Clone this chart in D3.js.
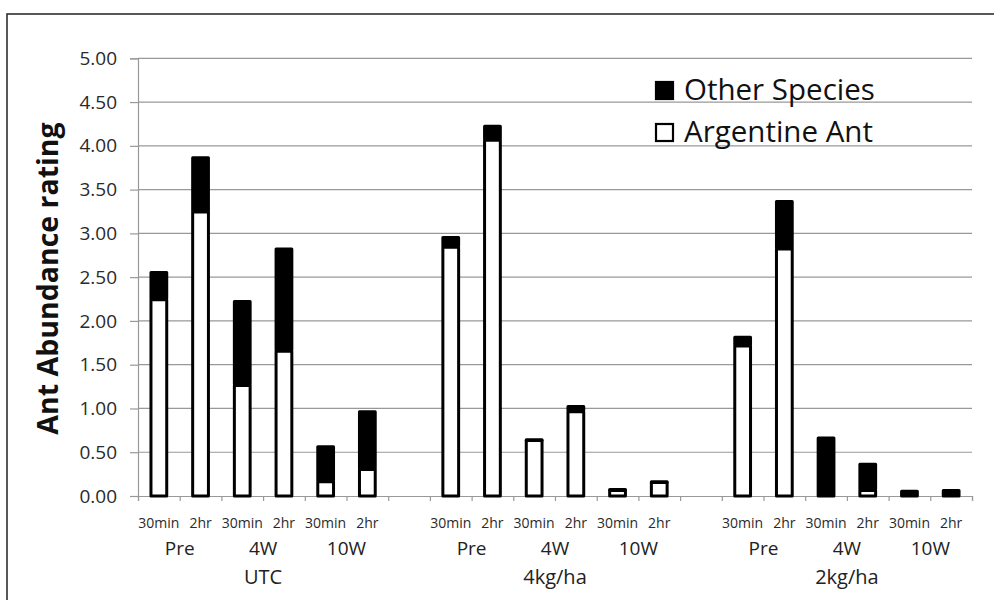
<!DOCTYPE html>
<html>
<head>
<meta charset="utf-8">
<script src="https://cdn.jsdelivr.net/npm/d3@7"></script>
<style>
  html, body { margin: 0; padding: 0; background: #fff; }
  svg { display: block; font-family: "Open Sans", "Noto Sans", sans-serif; }
</style>
</head>
<body>
<svg id="chart" width="994" height="600"></svg>
<script>
// ---- data ----
const groups = ["UTC", "4kg/ha", "2kg/ha"];
const periods = ["Pre", "4W", "10W"];
const times = ["30min", "2hr"];
const yTicks = [0, 0.5, 1, 1.5, 2, 2.5, 3, 3.5, 4, 4.5, 5];
const seriesNames = ["Other Species", "Argentine Ant"];
// order: group > period > time
const argentine = [2.26, 3.26, 1.28, 1.67, 0.18, 0.32,
                   2.86, 4.08, 0.65, 0.98, 0.08, 0.17,
                   1.73, 2.84, 0.00, 0.08, 0.00, 0.00];
const other     = [0.31, 0.62, 0.96, 1.17, 0.40, 0.66,
                   0.11, 0.16, 0.01, 0.06, 0.01, 0.01,
                   0.10, 0.54, 0.68, 0.30, 0.07, 0.08];

(function () {
// ---- build slots (with an empty slot between groups) ----
const slots = [];
const rows = [];
let k = 0;
groups.forEach((g, gi) => {
  periods.forEach(p => {
    times.forEach(t => {
      const id = g + "|" + p + "|" + t;
      slots.push(id);
      rows.push({id, group: g, period: p, time: t, argentine: argentine[k], other: other[k]});
      k++;
    });
  });
  if (gi < groups.length - 1) slots.push("gap" + gi);
});

const svg = d3.select("#chart");
const pLeft = 138, pRight = 972, pTop = 58.3, pBottom = 496;

const x = d3.scaleBand().domain(slots).range([pLeft, pRight]).paddingInner(0.55).paddingOuter(0.275);
const xb = d3.scaleLinear().domain([0, slots.length]).range([pLeft, pRight]);
const y = d3.scaleLinear().domain([0, 5]).range([pBottom, pTop]);

// frame
svg.append("rect").attr("x", 7).attr("y", 14).attr("width", 1100).attr("height", 700)
  .attr("fill", "none").attr("stroke", "#222").attr("stroke-width", 1.5);

// gridlines
svg.append("g").selectAll("line").data(yTicks.filter(d => d > 0)).join("line")
  .attr("x1", pLeft).attr("x2", pRight)
  .attr("y1", d => y(d)).attr("y2", d => y(d))
  .attr("stroke", "#999").attr("stroke-width", 1.2);

// y axis
const yAxis = svg.append("g").attr("transform", `translate(${pLeft},0)`)
  .call(d3.axisLeft(y).tickValues(yTicks).tickFormat(d3.format(".2f")).tickSize(8).tickPadding(13));
yAxis.select(".domain").attr("stroke", "#999").attr("stroke-width", 1.2);
yAxis.selectAll(".tick line").attr("stroke", "#999").attr("stroke-width", 1.2);
yAxis.selectAll(".tick text").attr("font-size", 19).attr("fill", "#2a2a2a")
  .attr("font-family", "'Open Sans', sans-serif");

// x axis ticks
const xAxis = svg.append("g").attr("transform", `translate(0,${pBottom})`)
  .call(d3.axisBottom(xb).tickValues(d3.range(slots.length + 1)).tickFormat("").tickSize(5));
xAxis.select(".domain").attr("stroke", "#999").attr("stroke-width", 1.2);
xAxis.selectAll(".tick line").attr("stroke", "#999").attr("stroke-width", 1.2);

// stacked bars
const stack = d3.stack().keys(["argentine", "other"]);
const stacked = stack(rows);
const sw = 3;
const colors = {argentine: "#fff", other: "#000"};
[stacked[1], stacked[0]].forEach(layer => {
  svg.append("g").selectAll("rect")
    .data(layer.filter(d => d[1] - d[0] > 0))
    .join("rect")
    .attr("x", d => x(d.data.id) + sw / 2)
    .attr("width", x.bandwidth() - sw)
    .attr("y", d => y(d[1]) + sw / 2)
    .attr("height", d => Math.max(0.5, y(d[0]) - y(d[1]) - sw / 2))
    .attr("fill", colors[layer.key])
    .attr("stroke", "#000").attr("stroke-width", sw)
    .attr("stroke-linejoin", "round");
});

// x labels: time row
svg.append("g").selectAll("text").data(rows).join("text")
  .attr("x", d => x(d.id) + x.bandwidth() / 2)
  .attr("y", 528)
  .attr("text-anchor", "middle")
  .attr("font-size", 14).attr("fill", "#2a2a2a")
  .text(d => d.time);

// period row
const periodRows = rows.filter(d => d.time === times[0]);
svg.append("g").selectAll("text").data(periodRows).join("text")
  .attr("x", d => x(d.id) + x.step() / 2 + x.bandwidth() / 2)
  .attr("y", 555)
  .attr("text-anchor", "middle")
  .attr("font-size", 19).attr("fill", "#222")
  .text(d => d.period);

// group row
svg.append("g").selectAll("text").data(groups).join("text")
  .attr("x", g => {
    const ids = rows.filter(r => r.group === g).map(r => x(r.id));
    return (d3.min(ids) + d3.max(ids) + x.bandwidth()) / 2;
  })
  .attr("y", 584)
  .attr("text-anchor", "middle")
  .attr("font-size", 20).attr("fill", "#222")
  .text(g => g);

// y title
svg.append("text")
  .attr("transform", `translate(58,${(122 + 435) / 2}) rotate(-90)`)
  .attr("text-anchor", "middle")
  .attr("font-size", 28.5).attr("font-weight", "bold").attr("fill", "#111")
  .text("Ant Abundance rating");

// legend
const legend = svg.append("g");
const legendFill = ["#000", "#fff"];
const legendY = [81, 123];
seriesNames.forEach((name, i) => {
  legend.append("rect").attr("x", 656).attr("y", legendY[i] + 1)
    .attr("width", 17).attr("height", 17)
    .attr("fill", legendFill[i]).attr("stroke", "#000").attr("stroke-width", 2.2);
  legend.append("text").attr("x", 684).attr("y", legendY[i] + 19)
    .attr("font-size", 29.5).attr("fill", "#111")
    .text(name);
});
})();
</script>
</body>
</html>
